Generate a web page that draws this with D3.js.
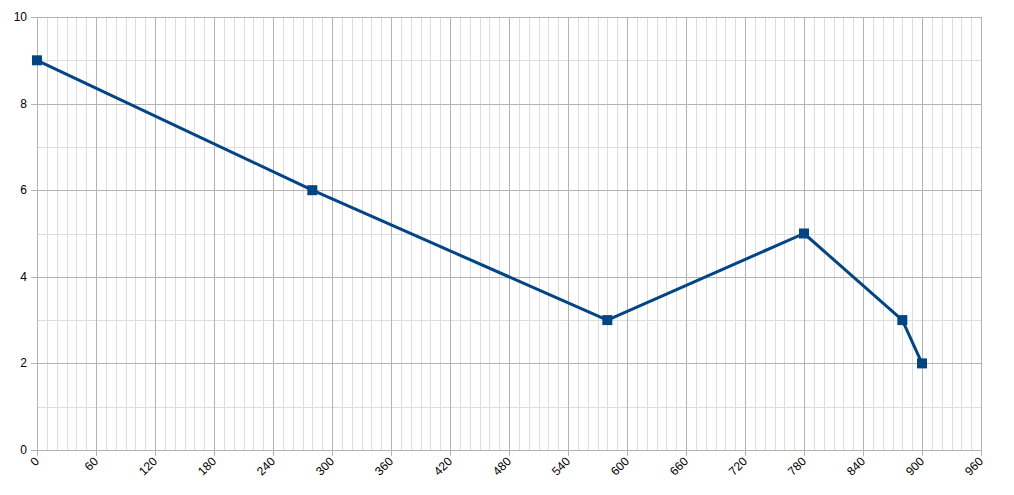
<!DOCTYPE html>
<html><head><meta charset="utf-8">
<script src="https://cdn.jsdelivr.net/npm/d3@7"></script>
<style>body{margin:0;background:#fff}svg{display:block}text{font-family:"Liberation Sans",Arial,sans-serif}</style>
</head><body><svg id="c" width="1014" height="495"></svg>
<script>
const xValues = [0, 280, 580, 780, 880, 900];
const yValues = [9, 6, 3, 5, 3, 2];
const xTicks = [0,60,120,180,240,300,360,420,480,540,600,660,720,780,840,900,960];
const yTicks = [0,2,4,6,8,10];

const svg = d3.select("#c");
const L=37, R=981, T=17, B=450;
const x = d3.scaleLinear().domain([0,960]).range([L,R]);
const y = d3.scaleLinear().domain([0,10]).range([B,T]);

const g = svg.append("g");
// minor grid
g.selectAll(".mx").data(d3.range(0,961,10).filter(v=>v%60)).join("line")
 .attr("x1",d=>Math.round(x(d))+0.5).attr("x2",d=>Math.round(x(d))+0.5).attr("y1",T).attr("y2",B)
 .attr("stroke","#dddddd").attr("stroke-width",1);
g.selectAll(".my").data(d3.range(1,10,2)).join("line")
 .attr("y1",d=>Math.round(y(d))+0.5).attr("y2",d=>Math.round(y(d))+0.5).attr("x1",L).attr("x2",R)
 .attr("stroke","#dddddd").attr("stroke-width",1);
// major grid
g.selectAll(".Mx").data(xTicks).join("line")
 .attr("x1",d=>Math.round(x(d))+0.5).attr("x2",d=>Math.round(x(d))+0.5).attr("y1",T).attr("y2",B+6)
 .attr("stroke","#b3b3b3").attr("stroke-width",1);
g.selectAll(".My").data(yTicks).join("line")
 .attr("y1",d=>Math.round(y(d))+0.5).attr("y2",d=>Math.round(y(d))+0.5).attr("x1",L-6).attr("x2",R)
 .attr("stroke","#b3b3b3").attr("stroke-width",1);

// labels
g.selectAll(".yl").data(yTicks).join("text")
 .attr("x",27).attr("y",d=>y(d)+4).attr("text-anchor","end")
 .attr("font-size",12).attr("fill","#000").text(d=>d);
g.selectAll(".xl").data(xTicks).join("text")
 .attr("transform",d=>`translate(${x(d)+3},${B+12}) rotate(-45)`)
 .attr("text-anchor","end").attr("font-size",12).attr("fill","#000").text(d=>d);

const pts = xValues.map((v,i)=>[v,yValues[i]]);
g.append("path").datum(pts)
 .attr("d",d3.line().x(d=>x(d[0])).y(d=>y(d[1])))
 .attr("fill","none").attr("stroke","#004586").attr("stroke-width",3).attr("stroke-linejoin","round");
g.selectAll(".pt").data(pts).join("rect")
 .attr("x",d=>x(d[0])-5).attr("y",d=>y(d[1])-5).attr("width",10).attr("height",10)
 .attr("fill","#004586");
</script></body></html>
